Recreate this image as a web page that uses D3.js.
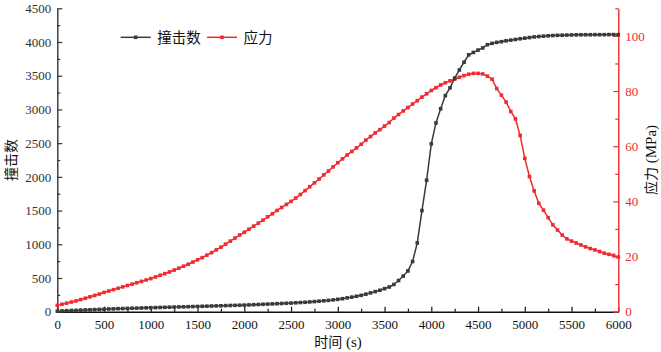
<!DOCTYPE html>
<html><head><meta charset="utf-8">
<script src="https://cdn.jsdelivr.net/npm/d3@7"></script>
<style>
html,body{margin:0;padding:0;background:#fff;}
svg{display:block;}
</style></head>
<body>
<svg id="chart" width="661" height="352"></svg>
<script>
const times = [
0,50,100,150,200,250,300,350,400,450,
500,550,600,650,700,750,800,850,900,950,
1000,1050,1100,1150,1200,1250,1300,1350,1400,1450,
1500,1550,1600,1650,1700,1750,1800,1850,1900,1950,
2000,2050,2100,2150,2200,2250,2300,2350,2400,2450,
2500,2550,2600,2650,2700,2750,2800,2850,2900,2950,
3000,3050,3100,3150,3200,3250,3300,3350,3400,3450,
3500,3550,3600,3650,3700,3750,3800,3850,3900,3950,
4000,4050,4100,4150,4200,4250,4300,4350,4400,4450,
4500,4550,4600,4650,4700,4750,4800,4850,4900,4950,
5000,5050,5100,5150,5200,5250,5300,5350,5400,5450,
5500,5550,5600,5650,5700,5750,5800,5850,5900,5950,
6000];
const hits = [
8,12,15,18,20,23,26,28,31,34,
37,40,42,45,47,49,51,53,55,57,
59,61,63,65,67,69,71,72,74,76,
78,80,82,84,86,88,90,92,94,96,
98,101,104,107,110,113,116,119,122,125,
128,132,136,140,145,150,156,162,168,175,
184,193,205,216,229,243,260,279,298,318,
342,367,404,462,528,605,745,1020,1500,1950,
2490,2800,3010,3205,3320,3465,3585,3700,3810,3845,
3880,3912,3960,3980,3995,4005,4018,4028,4038,4048,
4057,4066,4076,4082,4087,4092,4096,4099,4101,4103,
4105,4106,4107,4108,4108,4109,4109,4109,4110,4110,
4110];
const stress = [
2.3,2.7,3.1,3.5,3.9,4.4,4.9,5.4,5.9,6.4,
7.0,7.5,8.0,8.5,9.0,9.5,10.0,10.5,11.0,11.5,
12.0,12.6,13.2,13.8,14.4,15.1,15.8,16.5,17.2,18.0,
18.8,19.6,20.5,21.4,22.4,23.4,24.5,25.6,26.7,27.8,
28.8,29.9,31.0,32.1,33.2,34.4,35.5,36.7,37.8,38.9,
40.0,41.2,42.5,43.9,45.3,46.7,48.1,49.6,51.0,52.5,
54.0,55.4,56.8,58.1,59.4,60.7,62.2,63.5,64.8,66.0,
67.3,68.6,70.2,71.5,72.8,74.0,75.3,76.5,77.8,79.0,
80.2,81.2,82.2,83.0,83.7,84.3,85.0,85.6,86.1,86.4,
86.4,86.2,85.4,84.3,80.9,78.5,76.0,72.6,69.9,63.9,
55.6,49.0,43.8,39.3,36.8,34.1,31.5,29.6,27.8,26.4,
25.6,24.9,24.2,23.5,22.9,22.4,21.8,21.2,20.8,20.4,
19.8];
const xTicks = [0,500,1000,1500,2000,2500,3000,3500,4000,4500,5000,5500,6000];
const xMinor = [250,750,1250,1750,2250,2750,3250,3750,4250,4750,5250,5750];
const yLeftTicks = [0,500,1000,1500,2000,2500,3000,3500,4000,4500];
const yLeftMinor = [250,750,1250,1750,2250,2750,3250,3750,4250];
const yRightTicks = [0,20,40,60,80,100];
const yRightMinor = [10,30,50,70,90,110];
const seriesNames = ["撞击数","应力"];
const xLabel = ["时间", " (s)"];
const yLeftLabel = "撞击数";
const yRightLabel = ["应力", " (MPa)"];

const BLACK = "#3a3a3a", RED = "#f02a30";
const L = 57.3, R = 618.3, T = 8.3, B = 311.7;
const svg = d3.select("#chart");
const x = d3.scaleLinear().domain([0,6000]).range([L,R]);
const yL = d3.scaleLinear().domain([0,4500]).range([B,T]);
const yR = d3.scaleLinear().domain([0,110]).range([B,T]);
const numFont = "Liberation Serif, DejaVu Serif, serif";
const cjkFont = "Noto Sans CJK SC, sans-serif";

function styleAxis(g, color){
  g.attr("font-family", numFont).attr("font-size", 13);
  g.select(".domain").attr("stroke", color).attr("stroke-width", 1.4);
  g.selectAll(".tick line").attr("stroke", color).attr("stroke-width", 1.2);
  g.selectAll(".tick text").attr("fill", color).attr("font-family", numFont).attr("font-size", 13);
}

// bottom axis
const gx = svg.append("g").attr("transform",`translate(0,${B})`)
  .call(d3.axisBottom(x).tickValues(xTicks).tickFormat(d3.format("d")).tickSize(-5).tickSizeOuter(0).tickPadding(8));
styleAxis(gx, "#111");
const gxm = svg.append("g").attr("transform",`translate(0,${B})`)
  .call(d3.axisBottom(x).tickValues(xMinor).tickFormat("").tickSize(-3).tickSizeOuter(0));
styleAxis(gxm, "#111"); gxm.select(".domain").remove();

// left axis
const gy = svg.append("g").attr("transform",`translate(${L},0)`)
  .call(d3.axisLeft(yL).tickValues(yLeftTicks).tickFormat(d3.format("d")).tickSize(-5).tickSizeOuter(0).tickPadding(6));
styleAxis(gy, "#333");
const gym = svg.append("g").attr("transform",`translate(${L},0)`)
  .call(d3.axisLeft(yL).tickValues(yLeftMinor).tickFormat("").tickSize(-3).tickSizeOuter(0));
styleAxis(gym, "#333"); gym.select(".domain").remove();

// right axis
const gr = svg.append("g").attr("transform",`translate(${R},0)`)
  .call(d3.axisRight(yR).tickValues(yRightTicks).tickFormat(d3.format("d")).tickSize(-5).tickSizeOuter(0).tickPadding(7));
styleAxis(gr, RED);
const grm = svg.append("g").attr("transform",`translate(${R},0)`)
  .call(d3.axisRight(yR).tickValues(yRightMinor).tickFormat("").tickSize(-3).tickSizeOuter(0));
styleAxis(grm, RED); grm.select(".domain").remove();

// series
const idx = d3.range(times.length);
function drawSeries(vals, yScale, color){
  const line = d3.line().x(i=>x(times[i])).y(i=>yScale(vals[i]));
  svg.append("path").datum(idx).attr("d", line).attr("fill","none")
    .attr("stroke", color).attr("stroke-width", 1.5);
  svg.append("g").selectAll("rect").data(idx).join("rect")
    .attr("x", i=>x(times[i])-1.8).attr("y", i=>yScale(vals[i])-1.8)
    .attr("width",3.6).attr("height",3.6).attr("fill", color);
}
drawSeries(stress, yR, RED);
drawSeries(hits, yL, BLACK);

// axis labels
function mixedLabel(sel, parts){
  sel.append("tspan").attr("font-family", cjkFont).text(parts[0]);
  sel.append("tspan").attr("font-family", numFont).attr("font-size", 15).text(parts[1]);
}
const xl = svg.append("text").attr("x", 338).attr("y", 347).attr("text-anchor","middle")
  .attr("font-size", 14).attr("fill","#111");
mixedLabel(xl, xLabel);
svg.append("text").attr("transform","translate(16,160) rotate(-90)").attr("text-anchor","middle")
  .attr("font-family", cjkFont).attr("font-size", 14).attr("fill","#111").text(yLeftLabel);
const rl = svg.append("text").attr("transform","translate(656,160) rotate(-90)").attr("text-anchor","middle")
  .attr("font-size", 14).attr("fill","#111");
mixedLabel(rl, yRightLabel);

// legend
const legend = [
  {name: seriesNames[0], color: BLACK, x0: 120.7},
  {name: seriesNames[1], color: RED, x0: 207}
];
legend.forEach(d=>{
  const g = svg.append("g");
  g.append("line").attr("x1", d.x0).attr("x2", d.x0+30).attr("y1",37.3).attr("y2",37.3)
    .attr("stroke", d.color).attr("stroke-width",1.5);
  g.append("rect").attr("x", d.x0+15-1.8).attr("y", 37.3-1.8).attr("width",3.6).attr("height",3.6).attr("fill", d.color);
  g.append("text").attr("x", d.x0+36.5).attr("y", 37.3).attr("dy","0.36em")
    .attr("font-family", cjkFont).attr("font-size", 14.5).attr("fill","#111").text(d.name);
});
</script>
</body></html>
